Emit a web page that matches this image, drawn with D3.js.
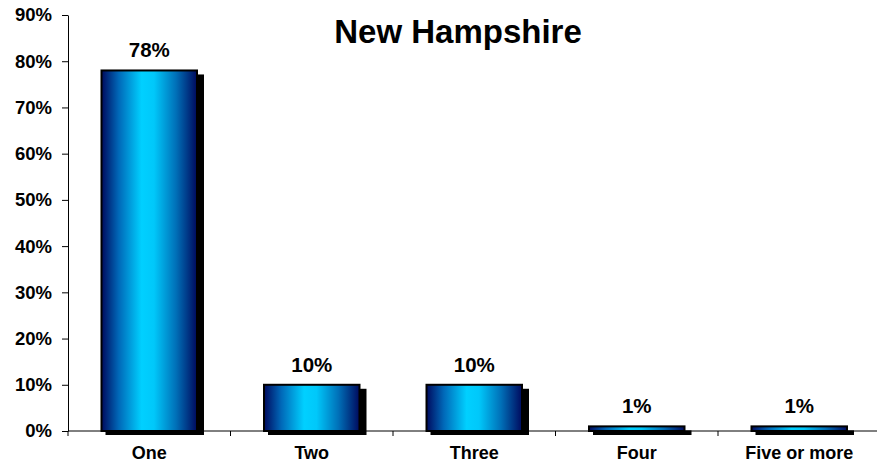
<!DOCTYPE html>
<html>
<head>
<meta charset="utf-8">
<script src="https://cdn.jsdelivr.net/npm/d3@7"></script>
<style>
  html, body { margin: 0; padding: 0; background: #fff; }
  svg { display: block; font-family: "Liberation Sans", Arial, sans-serif; }
</style>
</head>
<body>
<svg id="chart" width="877" height="464"></svg>
<script>
// Household count distribution
const title = "New Hampshire";
const categories = ["One", "Two", "Three", "Four", "Five or more"];
const values = [0.78, 0.10, 0.10, 0.01, 0.01];
const valueLabels = ["78%", "10%", "10%", "1%", "1%"];
const yTicks = [0, 0.1, 0.2, 0.3, 0.4, 0.5, 0.6, 0.7, 0.8, 0.9];

const svg = d3.select("#chart");
const plotLeft = 68, plotRight = 880.5, plotTop = 15, plotBottom = 431;

const x = d3.scaleBand().domain(categories).range([plotLeft, plotRight]).paddingInner(0.4).paddingOuter(0.2);
const y = d3.scaleLinear().domain([0, 0.9]).range([plotBottom, plotTop]);

// horizontal metallic gradient for the bars
const defs = svg.append("defs");
const grad = defs.append("linearGradient").attr("id", "barGrad")
  .attr("x1", "0%").attr("x2", "100%").attr("y1", "0%").attr("y2", "0%");
[[0, "#000a5e"], [0.18, "#0068b8"], [0.42, "#00d0ff"], [0.55, "#00c8fa"], [0.78, "#0070b8"], [1, "#000a5e"]]
  .forEach(([o, c]) => grad.append("stop").attr("offset", o).attr("stop-color", c));

// title
svg.append("text").attr("x", 458).attr("y", 43).attr("text-anchor", "middle")
  .attr("font-size", 33).attr("font-weight", "bold").text(title);

// y axis
const yAxis = svg.append("g").attr("transform", `translate(${plotLeft},0)`)
  .call(d3.axisLeft(y).tickValues(yTicks).tickFormat(d3.format(".0%")).tickSize(6).tickSizeOuter(0));
yAxis.select(".domain").attr("stroke", "#000");
yAxis.selectAll(".tick line").attr("stroke", "#000");
yAxis.selectAll(".tick text").attr("font-size", 18.5).attr("font-weight", "bold")
  .attr("font-family", "'Liberation Sans', Arial, sans-serif").attr("fill", "#000").attr("x", -16);

// bars: drop shadow, then gradient body
const barG = svg.append("g");
const bw = x.bandwidth();
barG.selectAll("rect.shadow").data(values).join("rect").attr("class", "shadow")
  .attr("x", (d, i) => x(categories[i]) + 5)
  .attr("y", d => y(d) + 4)
  .attr("width", bw + 1)
  .attr("height", d => plotBottom - y(d))
  .attr("fill", "#000");
barG.selectAll("rect.bar").data(values).join("rect").attr("class", "bar")
  .attr("x", (d, i) => x(categories[i]) + 1)
  .attr("y", d => y(d))
  .attr("width", bw - 2)
  .attr("height", d => plotBottom - y(d))
  .attr("fill", "url(#barGrad)")
  .attr("stroke", "#000").attr("stroke-width", 2);

// x axis (drawn over the bar bases)
const xAxis = svg.append("g").attr("transform", `translate(0,${plotBottom})`);
xAxis.append("line").attr("x1", plotLeft).attr("x2", plotRight).attr("stroke", "#000");
const step = x.step();
d3.range(categories.length + 1).forEach(i => {
  const tx = plotLeft + i * step;
  xAxis.append("line").attr("x1", tx).attr("x2", tx).attr("y1", 0).attr("y2", 5).attr("stroke", "#000");
});
xAxis.selectAll("text").data(categories).join("text")
  .attr("x", d => x(d) + bw / 2).attr("y", 28)
  .attr("text-anchor", "middle").attr("font-size", 18).attr("font-weight", "bold").text(d => d);

// value labels
svg.append("g").selectAll("text").data(values).join("text")
  .attr("x", (d, i) => x(categories[i]) + bw / 2)
  .attr("y", d => y(d) - 13)
  .attr("text-anchor", "middle").attr("font-size", 20.5).attr("font-weight", "bold")
  .text((d, i) => valueLabels[i]);
</script>
</body>
</html>
